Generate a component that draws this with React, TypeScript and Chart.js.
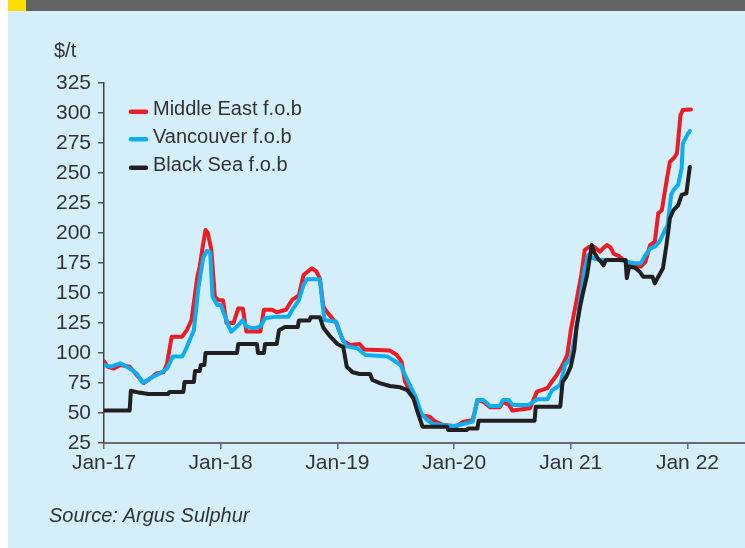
import React, { useEffect, useRef } from "react";
import { Chart, registerables } from "chart.js";

Chart.register(...registerables);

// ---- data (x = fractional year, y = $/t) ----
const middleEast: [number, number][] = [
  [2017.0, 93], [2017.03, 88.6], [2017.08, 87], [2017.14, 90], [2017.22, 88.6], [2017.28, 81.7],
  [2017.34, 75], [2017.4, 79], [2017.45, 83], [2017.51, 84], [2017.54, 91], [2017.58, 113.6],
  [2017.67, 113.6], [2017.71, 119], [2017.75, 127.5], [2017.8, 163.6], [2017.82, 172], [2017.85, 191],
  [2017.87, 202.5], [2017.89, 200], [2017.92, 186], [2017.95, 147], [2017.98, 144], [2018.02, 144],
  [2018.05, 125], [2018.11, 125], [2018.15, 137], [2018.19, 137], [2018.22, 118], [2018.34, 118],
  [2018.37, 136], [2018.44, 136], [2018.48, 134], [2018.56, 136], [2018.61, 144], [2018.67, 148],
  [2018.71, 165], [2018.78, 170.6], [2018.82, 168], [2018.85, 162], [2018.88, 138.6], [2018.92, 133],
  [2018.99, 125], [2019.05, 110], [2019.11, 106.7], [2019.19, 107.5], [2019.23, 103], [2019.45, 102],
  [2019.51, 98.3], [2019.55, 92.8], [2019.58, 76], [2019.65, 63.6], [2019.69, 52.5], [2019.73, 48],
  [2019.79, 47], [2019.84, 42.8], [2019.91, 40], [2020.02, 39], [2020.08, 42.8], [2020.16, 44],
  [2020.2, 60.8], [2020.25, 59.4], [2020.31, 54.7], [2020.39, 54.7], [2020.42, 59.4], [2020.47, 56.7],
  [2020.5, 52], [2020.65, 54], [2020.71, 67.8], [2020.8, 70.8], [2020.83, 75], [2020.88, 81.7],
  [2020.93, 90], [2020.97, 98.3], [2021.0, 119], [2021.05, 144], [2021.09, 165], [2021.12, 186],
  [2021.16, 188.6], [2021.2, 188.6], [2021.25, 184.4], [2021.28, 187.5], [2021.31, 190], [2021.34, 188],
  [2021.37, 182.5], [2021.41, 181], [2021.45, 177.5], [2021.51, 174.7], [2021.55, 172], [2021.6, 172],
  [2021.64, 176], [2021.68, 190], [2021.72, 192.8], [2021.75, 216.4], [2021.78, 219], [2021.82, 242.8],
  [2021.85, 259.4], [2021.88, 262], [2021.91, 266.4], [2021.94, 298], [2021.96, 302.5], [2022.03, 303],
];

const vancouver: [number, number][] = [
  [2017.0, 90], [2017.06, 88.6], [2017.14, 91.4], [2017.22, 87], [2017.28, 83], [2017.33, 75.3],
  [2017.37, 77], [2017.42, 80.3], [2017.48, 83], [2017.54, 87], [2017.59, 97], [2017.67, 97],
  [2017.71, 105], [2017.77, 119], [2017.81, 155], [2017.85, 179], [2017.88, 185], [2017.91, 184],
  [2017.93, 147], [2017.97, 140], [2018.0, 140], [2018.05, 127.5], [2018.07, 122], [2018.09, 117.8],
  [2018.14, 122], [2018.19, 127.5], [2018.22, 122], [2018.28, 120.6], [2018.34, 122], [2018.38, 128.9],
  [2018.48, 130.3], [2018.58, 130.3], [2018.62, 137], [2018.67, 144], [2018.71, 156.7], [2018.74, 161.4],
  [2018.85, 161.4], [2018.87, 142.8], [2018.89, 127.5], [2018.99, 126], [2019.04, 112], [2019.08, 105.5],
  [2019.17, 104], [2019.24, 98.3], [2019.43, 97], [2019.48, 94], [2019.54, 90], [2019.6, 77.5],
  [2019.67, 63.6], [2019.72, 49.7], [2019.77, 44], [2019.82, 40.8], [2019.99, 39], [2020.08, 40.8],
  [2020.16, 42.8], [2020.2, 60.8], [2020.25, 60.8], [2020.31, 55.8], [2020.39, 55.8], [2020.42, 60.8],
  [2020.47, 60.8], [2020.5, 56.7], [2020.64, 56.7], [2020.71, 61.4], [2020.8, 61.4], [2020.84, 69],
  [2020.91, 73.3], [2020.95, 90], [2021.0, 95.6], [2021.04, 116], [2021.06, 127.5], [2021.09, 151],
  [2021.12, 170.6], [2021.15, 181.7], [2021.19, 179], [2021.25, 177.5], [2021.42, 177.5], [2021.48, 176],
  [2021.55, 174.7], [2021.6, 174.7], [2021.64, 181.7], [2021.68, 187], [2021.72, 188.6], [2021.76, 192.8],
  [2021.8, 201], [2021.83, 206.7], [2021.86, 231.7], [2021.88, 235.8], [2021.92, 240], [2021.95, 254],
  [2021.96, 274.7], [2022.0, 282], [2022.02, 285],
];

const blackSea: [number, number][] = [
  [2017.0, 52], [2017.22, 52], [2017.23, 68.6], [2017.3, 67], [2017.38, 65.8], [2017.55, 65.8],
  [2017.56, 67.5], [2017.68, 67.5], [2017.69, 75.8], [2017.77, 75.8], [2017.78, 85], [2017.82, 85],
  [2017.83, 90], [2017.86, 90], [2017.87, 100], [2018.14, 100], [2018.15, 107.5], [2018.31, 107.5],
  [2018.32, 100], [2018.37, 100], [2018.38, 107.5], [2018.48, 107.5], [2018.5, 119], [2018.55, 121.6],
  [2018.66, 121.6], [2018.67, 127], [2018.76, 127], [2018.77, 129.7], [2018.85, 129.7], [2018.88, 121],
  [2018.94, 113.6], [2019.0, 107.5], [2019.05, 105], [2019.08, 88.6], [2019.13, 84], [2019.19, 82.5],
  [2019.28, 82.5], [2019.3, 77.5], [2019.37, 74.7], [2019.45, 72.5], [2019.54, 71.4], [2019.6, 69],
  [2019.65, 62.5], [2019.69, 50], [2019.73, 38.6], [2019.94, 38.6], [2019.95, 35.8], [2020.11, 35.8],
  [2020.12, 37], [2020.2, 37], [2020.21, 43.6], [2020.69, 43.6], [2020.7, 55.3], [2020.91, 55.3],
  [2020.93, 76], [2020.96, 80], [2021.0, 88.6], [2021.03, 102.5], [2021.05, 122], [2021.08, 138.6],
  [2021.1, 148], [2021.14, 165], [2021.18, 190], [2021.2, 184], [2021.23, 179], [2021.26, 176],
  [2021.28, 173], [2021.3, 177.5], [2021.47, 177.5], [2021.48, 162.5], [2021.5, 172], [2021.55, 171],
  [2021.59, 167.8], [2021.62, 163.6], [2021.7, 163.6], [2021.72, 158], [2021.75, 163.6], [2021.79, 170.6],
  [2021.82, 190], [2021.85, 212.5], [2021.88, 219], [2021.92, 223], [2021.95, 231.7], [2021.99, 233],
  [2022.02, 255],
];

const seriesNames = ["Middle East f.o.b", "Vancouver f.o.b", "Black Sea f.o.b"];
const seriesColors = ["#ec1c24", "#0daeef", "#231f20"];

const xTickValues = [2017, 2018, 2019, 2020, 2021, 2022];
const xTickLabels = ["Jan-17", "Jan-18", "Jan-19", "Jan-20", "Jan 21", "Jan 22"];
const yMin = 25;
const yMax = 325;
const yStep = 25;
const xMin = 2017;
const xMax = 2022.493;

const FONT = "'Liberation Sans', Arial, sans-serif";
const TEXT = "#333333";

const legendPlugin = {
  id: "insideLegend",
  afterDatasetsDraw(chart: any) {
    const ctx = chart.ctx;
    ctx.save();
    ctx.font = `20px ${FONT}`;
    ctx.textBaseline = "alphabetic";
    ctx.textAlign = "left";
    const rows = [100.7, 128.3, 156.7];
    seriesNames.forEach((name, i) => {
      const y = rows[i];
      ctx.strokeStyle = seriesColors[i];
      ctx.lineWidth = 4.5;
      ctx.lineCap = "round";
      ctx.beginPath();
      ctx.moveTo(123, y);
      ctx.lineTo(138, y);
      ctx.stroke();
      ctx.fillStyle = TEXT;
      ctx.fillText(name, 145, y + 3.5);
    });
    ctx.restore();
  },
};

export default function App() {
  const ref = useRef<HTMLCanvasElement>(null);

  useEffect(() => {
    if (!ref.current) return;
    const mk = (pts: [number, number][], i: number, order: number) => ({
      label: seriesNames[i],
      data: pts.map(([x, y]) => ({ x, y })),
      borderColor: seriesColors[i],
      backgroundColor: seriesColors[i],
      borderWidth: 4,
      pointRadius: 0,
      tension: 0,
      fill: false,
      borderJoinStyle: "round" as const,
      borderCapStyle: "round" as const,
      order,
    });
    const chart = new Chart(ref.current, {
      type: "line",
      data: {
        datasets: [mk(middleEast, 0, 3), mk(vancouver, 1, 2), mk(blackSea, 2, 1)],
      },
      plugins: [legendPlugin],
      options: {
        animation: false,
        responsive: false,
        devicePixelRatio: 1,
        layout: { padding: { top: 72, left: 0, right: 0, bottom: 0 } },
        plugins: { legend: { display: false }, tooltip: { enabled: false } },
        scales: {
          x: {
            type: "linear",
            min: xMin,
            max: xMax,
            afterBuildTicks: (s: any) => {
              s.ticks = xTickValues.map((v) => ({ value: v }));
            },
            afterFit: (s: any) => {
              s.height = 105;
            },
            ticks: {
              autoSkip: false,
              maxRotation: 0,
              padding: 2,
              color: TEXT,
              font: { family: FONT, size: 21 },
              callback: (v: any) => {
                const idx = xTickValues.indexOf(Number(v));
                return idx >= 0 ? xTickLabels[idx] : "";
              },
            },
            grid: {
              drawOnChartArea: false,
              drawTicks: true,
              tickLength: 6,
              color: "#6b6b6b",
              lineWidth: 1.5,
            },
            border: { display: true, color: "#6b6b6b", width: 2 },
          },
          y: {
            type: "linear",
            min: yMin,
            max: yMax,
            afterFit: (s: any) => {
              s.width = 96;
            },
            ticks: {
              stepSize: yStep,
              padding: 7,
              color: TEXT,
              font: { family: FONT, size: 21 },
            },
            grid: {
              drawOnChartArea: false,
              drawTicks: true,
              tickLength: 6,
              color: "#555555",
              lineWidth: 1.5,
            },
            border: { display: true, color: "#444444", width: 1.5 },
          },
        },
      },
    });
    return () => chart.destroy();
  }, []);

  return (
    <div
      style={{
        position: "absolute",
        left: 0,
        top: 0,
        width: 745,
        height: 548,
        background: "#ffffff",
        overflow: "hidden",
      }}
    >
      <div style={{ position: "absolute", left: 8, top: 0, width: 18, height: 11, background: "#ffdd00" }} />
      <div style={{ position: "absolute", left: 26, top: 0, width: 719, height: 11, background: "#636466" }} />
      <div style={{ position: "absolute", left: 8, top: 11, width: 737, height: 537, background: "#d4eefa" }}>
        <canvas ref={ref} width={737} height={537} style={{ display: "block", width: 737, height: 537 }} />
      </div>
      <div
        style={{
          position: "absolute",
          left: 54,
          top: 40,
          fontFamily: FONT,
          fontSize: 20,
          lineHeight: "20px",
          color: TEXT,
        }}
      >
        $/t
      </div>
      <div
        style={{
          position: "absolute",
          left: 49,
          top: 505,
          fontFamily: FONT,
          fontSize: 20,
          fontStyle: "italic",
          lineHeight: "20px",
          color: TEXT,
        }}
      >
        Source: Argus Sulphur
      </div>
    </div>
  );
}
